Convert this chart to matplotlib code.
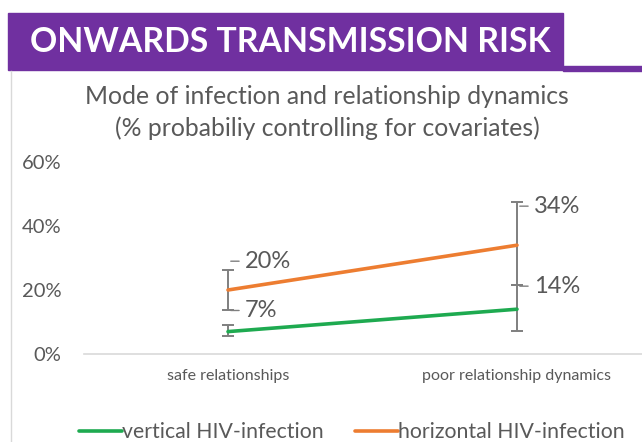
import matplotlib
matplotlib.use("Agg")
import matplotlib.pyplot as plt
import matplotlib.transforms as mtransforms
from matplotlib.patches import Rectangle
from matplotlib.lines import Line2D
import numpy as np

plt.rcParams['font.family'] = ['Lato', 'DejaVu Sans']

categories = ['safe relationships', 'poor relationship dynamics']
series_names = ['vertical HIV-infection', 'horizontal HIV-infection']
vertical = [0.07, 0.14]
horizontal = [0.20, 0.34]
vertical_lo = [0.055, 0.073]
vertical_hi = [0.09, 0.215]
horizontal_lo = [0.1375, 0.215]
horizontal_hi = [0.2625, 0.475]
value_labels = ['7%', '14%', '20%', '34%']
yticks = [0, 0.2, 0.4, 0.6]
ytick_labels = ['0%', '20%', '40%', '60%']

W, H = 642, 442
GREEN = '#1EAA50'
ORANGE = '#ED7D31'
PURPLE = '#7030A0'
GREY_TXT = '#595959'
ERR = '#7F7F7F'

fig = plt.figure(figsize=(W / 100, H / 100), dpi=100)


def fx(px):
    return px / W


def fy(py):
    return 1 - py / H


# banner
fig.patches.append(Rectangle((fx(8), fy(70)), fx(563 - 8), (70 - 13) / H,
                             transform=fig.transFigure, color=PURPLE, zorder=0))
fig.patches.append(Rectangle((fx(563), fy(71)), fx(W - 563), 5 / H,
                             transform=fig.transFigure, color=PURPLE, zorder=0))
fig.text(fx(30), fy(42), 'ONWARDS TRANSMISSION RISK', color='white',
         fontsize=24.3, fontweight='bold', va='center', ha='left')
# chart frame left edge
fig.lines.append(Line2D([fx(11), fx(11)], [fy(71), 0], transform=fig.transFigure,
                        color='#D9D9D9', lw=1))

fig.text(fx(327), fy(97), 'Mode of infection and relationship dynamics',
         color=GREY_TXT, fontsize=17.8, ha='center', va='center')
fig.text(fx(327), fy(128), '(% probabiliy controlling for covariates)',
         color=GREY_TXT, fontsize=17.8, ha='center', va='center')

# plot area: categories at 228 and 517 px, 0% at 354 px, 60% at 162 px
x_left, x_right = 83.5, 661.5
ax = fig.add_axes([fx(x_left), fy(354), fx(x_right - x_left), (354 - 162) / H])
ax.set_xlim(-0.5, 1.5)
ax.set_ylim(0, 0.6)
ax.patch.set_alpha(0)
for s in ['top', 'right', 'left']:
    ax.spines[s].set_visible(False)
ax.spines['bottom'].set_color('#D9D9D9')
ax.spines['bottom'].set_linewidth(1.2)
ax.set_yticks(yticks)
ax.set_yticklabels(ytick_labels, color=GREY_TXT, fontsize=14.5)
ax.tick_params(axis='y', length=0, pad=16)
x = np.arange(len(categories))
ax.set_xticks(x)
ax.set_xticklabels(categories, color=GREY_TXT, fontsize=11.5)
ax.tick_params(axis='x', length=0, pad=11)

for vals, lo, hi, col, name in [(vertical, vertical_lo, vertical_hi, GREEN, series_names[0]),
                                (horizontal, horizontal_lo, horizontal_hi, ORANGE, series_names[1])]:
    vals = np.array(vals)
    yerr = [vals - np.array(lo), np.array(hi) - vals]
    ax.errorbar(x, vals, yerr=yerr, fmt='none', ecolor=ERR, elinewidth=1.4,
                capsize=4, capthick=1.4, zorder=2)
    ax.plot(x, vals, color=col, lw=2.6, label=name, zorder=3, solid_capstyle='round')

# data labels with short leader lines (label heights in axis units)
label_pts = [(0, 0.136, value_labels[0]), (1, 0.212, value_labels[1]),
             (0, 0.29, value_labels[2]), (1, 0.462, value_labels[3])]
lead_start = mtransforms.offset_copy(ax.transData, fig=fig, x=2, y=0, units='points')
for xi, yi, txt in label_pts:
    ax.annotate(txt, (xi, yi), xytext=(12, 0), textcoords='offset points',
                color=GREY_TXT, fontsize=17, va='center', ha='left')
    ax.annotate('', xy=(xi, yi), xycoords=lead_start, xytext=(6, 0),
                textcoords='offset points',
                arrowprops=dict(arrowstyle='-', color=ERR, lw=1, shrinkA=0, shrinkB=0))

fig.legend(loc='center', bbox_to_anchor=(fx(352), fy(432)), ncol=2, frameon=False,
           fontsize=15.3, labelcolor=GREY_TXT, handlelength=2.0, handletextpad=0.0,
           columnspacing=1.5)

fig.savefig('out.png', dpi=100)
